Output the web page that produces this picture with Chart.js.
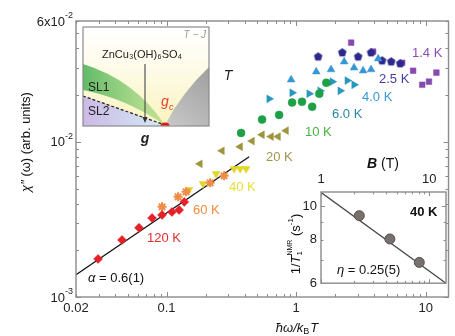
<!DOCTYPE html>
<html>
<head>
<meta charset="utf-8">
<script src="https://cdn.jsdelivr.net/npm/chart.js@4.4.1/dist/chart.umd.min.js"></script>
<style>
html, body { margin: 0; padding: 0; background: #fff; }
#wrap { position: relative; width: 455px; height: 336px; }
#main { position: absolute; left: 0; top: 0; }
#inset { position: absolute; left: 280px; top: 150px; }
</style>
</head>
<body>
<div id="wrap">
  <canvas id="main" width="455" height="336"></canvas>
  <canvas id="inset" width="172" height="145"></canvas>
</div>
<script>
// temperature series: x = hbar*omega/kB*T, y = chi''(omega)
var temps = ['120 K', '60 K', '40 K', '20 K', '10 K', '6.0 K', '4.0 K', '2.5 K', '1.4 K'];

var x120 = [0.0296, 0.0453, 0.0613, 0.0773, 0.0923, 0.110, 0.125, 0.137];
var y120 = [1.76e-3, 2.33e-3, 2.79e-3, 3.23e-3, 3.38e-3, 3.53e-3, 3.64e-3, 4.10e-3];
var x60 = [0.0923, 0.1227, 0.1415, 0.217, 0.278];
var y60 = [3.81e-3, 4.42e-3, 4.76e-3, 5.44e-3, 6.04e-3];
var x40 = [0.149, 0.191, 0.241, 0.332, 0.370, 0.411];
var y40 = [4.90e-3, 5.36e-3, 6.22e-3, 6.70e-3, 6.70e-3, 6.70e-3];
var x20 = [0.181, 0.268, 0.370, 0.457, 0.546, 0.641, 0.726, 0.837];
var y20 = [7.21e-3, 8.75e-3, 9.29e-3, 1.01e-2, 1.11e-2, 1.08e-2, 1.08e-2, 1.18e-2];
var x10 = [0.376, 0.546, 0.739, 0.931, 1.11, 1.33, 1.51, 1.71];
var y10 = [1.14e-2, 1.39e-2, 1.49e-2, 1.79e-2, 1.81e-2, 1.68e-2, 2.04e-2, 2.40e-2];
var x6 = [0.619, 0.931, 1.26, 1.53, 1.90, 2.19, 2.48, 2.80];
var y6 = [1.89e-2, 2.07e-2, 2.04e-2, 2.13e-2, 2.44e-2, 2.13e-2, 2.48e-2, 2.33e-2];
var x4 = [0.915, 1.43, 1.86, 2.35, 2.80, 3.29, 3.79, 4.30];
var y4 = [2.51e-2, 2.83e-2, 2.92e-2, 3.28e-2, 3.00e-2, 2.87e-2, 2.92e-2, 3.43e-2];
var x25 = [1.48, 2.27, 3.01, 3.79, 4.61, 5.42, 6.36];
var y25 = [3.53e-2, 3.75e-2, 3.53e-2, 3.75e-2, 3.33e-2, 3.28e-2, 3.19e-2];
var x14 = [2.66, 3.93, 6.59, 8.0, 9.40, 10.6, 12.1];
var y14 = [4.35e-2, 3.81e-2, 3.23e-2, 2.87e-2, 2.33e-2, 2.44e-2, 2.79e-2];

// power-law fit, alpha = 0.6(1)
var fitX = [0.02, 0.434];
var fitY = [1.39e-3, 8.0e-3];

// main axes ticks
var xTicks = [0.02, 0.1, 1, 10];
var xTickLabels = ['0.02', '0.1', '1', '10'];
var yTicks = [1e-3, 1e-2, 6e-2];
var yTickLabels = [['10', '-3'], ['10', '-2'], ['6x10', '-2']];

// inset: 1/T1 (NMR) vs B at 40 K
var bField = [2.26, 4.33, 8.1];
var rateT1 = [9.4, 8.05, 6.89];
var rateFitB = [1, 14.3];
var rateFitY = [10.97, 6.0];
var bTicks = [1, 10];
var rateTicks = [6, 8, 10];

var FONT = '"Liberation Sans", Arial, sans-serif';

function pts(xs, ys) {
  return xs.map(function (v, i) { return { x: v, y: ys[i] }; });
}

function pentagon(color, r) {
  var c = document.createElement('canvas');
  c.width = c.height = 2 * r + 2;
  var g = c.getContext('2d');
  g.fillStyle = color;
  g.beginPath();
  for (var i = 0; i < 5; i++) {
    var a = -Math.PI / 2 + i * 2 * Math.PI / 5;
    var px = r + 1 + r * Math.cos(a), py = r + 1 + r * Math.sin(a);
    if (i) g.lineTo(px, py); else g.moveTo(px, py);
  }
  g.closePath();
  g.fill();
  return c;
}

var markColors = ['rgb(228,32,40)', 'rgb(240,140,70)', 'rgb(226,214,40)', 'rgb(158,148,60)',
  'rgb(30,160,70)', 'rgb(40,150,190)', 'rgb(55,150,215)', 'rgb(45,40,140)', 'rgb(135,75,175)'];
var labelColors = ['rgb(232,45,45)', 'rgb(245,140,60)', 'rgb(228,224,60)', 'rgb(160,150,75)',
  'rgb(70,180,60)', 'rgb(40,135,165)', 'rgb(60,150,215)', 'rgb(70,60,160)', 'rgb(140,80,180)'];
var labelPos = [[147, 238], [193, 210], [229, 187], [266, 157], [305, 132], [332, 114], [362, 97], [379, 79], [412, 53]];

function series(xs, ys, i, style, rot, r) {
  return {
    label: temps[i],
    data: pts(xs, ys),
    pointStyle: style,
    pointRotation: rot || 0,
    pointRadius: r || 4,
    backgroundColor: markColors[i],
    borderColor: markColors[i],
    borderWidth: style === 'star' ? 2 : 0.5
  };
}

function minorTicks(lo, hi) {
  var out = [];
  for (var d = Math.floor(Math.log10(lo)); d <= Math.ceil(Math.log10(hi)); d++) {
    for (var k = 1; k < 10; k++) {
      var v = k * Math.pow(10, d);
      if (v >= lo * 0.999 && v <= hi * 1.001) out.push({ v: v, major: k === 1 });
    }
  }
  return out;
}

function drawTicks(c, chart, len) {
  var a = chart.chartArea, xs = chart.scales.x, ys = chart.scales.y;
  c.strokeStyle = '#8a8a8a';
  c.lineWidth = 1;
  minorTicks(xs.min, xs.max).forEach(function (t) {
    var p = Math.round(xs.getPixelForValue(t.v)) + 0.5;
    var l = t.major ? len : len * 0.6;
    c.beginPath();
    c.moveTo(p, a.bottom); c.lineTo(p, a.bottom - l);
    c.moveTo(p, a.top); c.lineTo(p, a.top + l);
    c.stroke();
  });
  minorTicks(ys.min, ys.max).forEach(function (t) {
    var p = Math.round(ys.getPixelForValue(t.v)) + 0.5;
    var l = t.major ? len : len * 0.6;
    c.beginPath();
    c.moveTo(a.left, p); c.lineTo(a.left + l, p);
    c.moveTo(a.right, p); c.lineTo(a.right - l, p);
    c.stroke();
  });
}

function drawPhase(c) {
  var x0 = 83, y0 = 27, x1 = 209, y1 = 126, gx = 165, gy = 125;
  c.save();
  c.fillStyle = '#fff';
  c.fillRect(x0, y0, x1 - x0, y1 - y0);
  c.beginPath(); c.rect(x0, y0, x1 - x0, y1 - y0); c.clip();
  var g = c.createLinearGradient(0, y0, 0, y1);
  g.addColorStop(0, '#ffffff'); g.addColorStop(0.45, '#fdfbe6'); g.addColorStop(1, '#faf3bd');
  c.fillStyle = g;
  c.fillRect(x0, y0, x1 - x0, y1 - y0);
  // gray region
  g = c.createLinearGradient(gx, gy, x1, 70);
  g.addColorStop(0, 'rgb(200,200,200)'); g.addColorStop(1, 'rgb(160,160,160)');
  c.fillStyle = g;
  c.beginPath(); c.moveTo(gx, gy); c.quadraticCurveTo(182, 92, x1 + 1, 66); c.lineTo(x1 + 1, y1 + 1); c.closePath(); c.fill();
  // green band
  g = c.createLinearGradient(x0, 0, gx, 0);
  g.addColorStop(0, 'rgba(70,175,80,0.85)'); g.addColorStop(1, 'rgba(150,210,110,0.55)');
  c.fillStyle = g;
  c.beginPath(); c.moveTo(x0, 64); c.quadraticCurveTo(135, 80, gx, gy); c.quadraticCurveTo(125, 98, x0, 90); c.closePath(); c.fill();
  // SL2 region
  g = c.createLinearGradient(x0, 0, gx, 0);
  g.addColorStop(0, 'rgb(205,185,230)'); g.addColorStop(1, 'rgb(210,235,245)');
  c.fillStyle = g;
  c.beginPath(); c.moveTo(x0, 96); c.lineTo(gx, gy); c.lineTo(gx, y1 + 1); c.lineTo(x0, y1 + 1); c.closePath(); c.fill();
  // dashed boundary
  c.setLineDash([3, 2]);
  c.strokeStyle = '#222'; c.lineWidth = 1.2;
  c.beginPath(); c.moveTo(x0, 96); c.lineTo(gx, gy); c.stroke();
  c.setLineDash([]);
  // vertical arrow
  c.strokeStyle = '#555'; c.lineWidth = 1.2;
  c.beginPath(); c.moveTo(145, 64); c.lineTo(145, 120); c.stroke();
  c.fillStyle = '#333';
  c.beginPath(); c.moveTo(142.5, 117); c.lineTo(147.5, 117); c.lineTo(145, 123); c.closePath(); c.fill();
  // red dot at g_c
  c.fillStyle = 'rgb(230,20,20)';
  c.beginPath(); c.ellipse(gx, gy + 1, 4.5, 3.5, 0, 0, 2 * Math.PI); c.fill();
  c.restore();
  c.strokeStyle = '#8a8a8a'; c.lineWidth = 1.2;
  c.strokeRect(x0, y0, x1 - x0, y1 - y0);
  // texts
  c.textBaseline = 'middle';
  c.fillStyle = '#999';
  c.font = 'italic 10px ' + FONT; c.textAlign = 'right';
  c.fillText('T \u2212 J', 206, 35);
  c.fillStyle = '#222';
  c.font = '11px ' + FONT; c.textAlign = 'center';
  c.fillText('ZnCu\u2083(OH)\u2086SO\u2084', 142, 55);
  c.font = '12px ' + FONT; c.textAlign = 'left';
  c.fillText('SL1', 88, 88);
  c.fillText('SL2', 88, 112);
  c.fillStyle = 'rgb(235,60,40)';
  c.font = 'italic 14px ' + FONT;
  c.fillText('g', 161, 102);
  c.font = 'italic 9px ' + FONT;
  c.fillText('c', 169, 107);
  c.fillStyle = '#222';
  c.font = 'italic bold 14px ' + FONT; c.textAlign = 'center';
  c.fillText('g', 145, 139);
  c.font = 'italic 14px ' + FONT;
  c.fillText('T', 228, 76);
}

var mainDeco = {
  id: 'mainDeco',
  afterDatasetsDraw: function (chart) {
    var c = chart.ctx, a = chart.chartArea, ys = chart.scales.y;
    c.save();
    drawTicks(c, chart, 5);
    c.strokeStyle = '#8a8a8a'; c.lineWidth = 1.4;
    c.strokeRect(a.left, a.top, a.right - a.left, a.bottom - a.top);
    // y tick labels with superscripts
    c.fillStyle = '#222';
    c.textBaseline = 'middle';
    yTicks.forEach(function (v, i) {
      var p = ys.getPixelForValue(v);
      c.font = '9px ' + FONT;
      var sw = c.measureText(yTickLabels[i][1]).width;
      c.textAlign = 'left';
      c.fillText(yTickLabels[i][1], 73 - sw, p - 5);
      c.font = '13px ' + FONT;
      c.textAlign = 'right';
      c.fillText(yTickLabels[i][0], 73 - sw, p + 1);
    });
    // temperature labels
    c.font = '13px ' + FONT;
    c.textAlign = 'left';
    temps.forEach(function (t, i) {
      c.fillStyle = labelColors[i];
      c.fillText(t, labelPos[i][0], labelPos[i][1]);
    });
    // alpha
    c.fillStyle = '#111';
    c.font = 'italic 13px ' + FONT;
    c.fillText('\u03b1', 88, 278);
    var w = c.measureText('\u03b1').width;
    c.font = '13px ' + FONT;
    c.fillText(' = 0.6(1)', 88 + w, 278);
    // x title: hbar omega / k_B T
    c.font = 'italic 13px ' + FONT;
    var p1 = '\u0127\u03c9/k', w1 = c.measureText(p1).width;
    c.font = '9px ' + FONT;
    var wb = c.measureText('B').width;
    c.font = 'italic 13px ' + FONT;
    var wt = c.measureText('T').width;
    var sx = 297 - (w1 + wb + wt + 1) / 2;
    c.fillText(p1, sx, 328);
    c.font = '9px ' + FONT;
    c.fillText('B', sx + w1, 332);
    c.font = 'italic 13px ' + FONT;
    c.fillText('T', sx + w1 + wb + 1, 328);
    // y title
    c.translate(26, 142);
    c.rotate(-Math.PI / 2);
    c.font = 'italic 13px ' + FONT;
    var s1 = '\u03c7\u2033', ws1 = c.measureText(s1).width;
    c.font = '13px ' + FONT;
    var s2 = ' (\u03c9) (arb. units)', ws2 = c.measureText(s2).width;
    var st = -(ws1 + ws2) / 2;
    c.font = 'italic 13px ' + FONT;
    c.fillText(s1, st, 0);
    c.font = '13px ' + FONT;
    c.fillText(s2, st + ws1, 0);
    c.restore();
    c.save();
    drawPhase(c);
    c.restore();
  }
};

new Chart(document.getElementById('main'), {
  type: 'scatter',
  data: {
    datasets: [
      series(x120, y120, 0, 'rectRot', 0, 4.5),
      series(x60, y60, 1, 'star', 0, 4.5),
      series(x40, y40, 2, 'triangle', 180, 4.5),
      series(x20, y20, 3, 'triangle', 270, 4.5),
      series(x10, y10, 4, 'circle', 0, 4),
      series(x6, y6, 5, 'triangle', 90, 4.5),
      series(x4, y4, 6, 'triangle', 0, 4.5),
      series(x25, y25, 7, pentagon(markColors[7], 4.5), 0, 4.5),
      series(x14, y14, 8, 'rect', 0, 4),
      {
        type: 'line',
        label: 'fit',
        data: pts(fitX, fitY),
        borderColor: '#111',
        borderWidth: 1.3,
        pointRadius: 0,
        fill: false
      }
    ]
  },
  options: {
    responsive: false,
    animation: false,
    layout: { padding: { left: 0, right: 5, top: 21, bottom: 0 } },
    plugins: { legend: { display: false }, tooltip: { enabled: false } },
    scales: {
      x: {
        type: 'logarithmic',
        min: 0.02,
        max: 15,
        afterBuildTicks: function (s) { s.ticks = xTicks.map(function (v) { return { value: v }; }); },
        afterFit: function (s) { s.height = 39; },
        grid: { display: false, drawTicks: false },
        border: { display: false },
        ticks: {
          color: '#222',
          font: { size: 13, family: FONT },
          padding: 4,
          maxRotation: 0,
          autoSkip: false,
          callback: function (v, i) { return xTickLabels[i]; }
        }
      },
      y: {
        type: 'logarithmic',
        min: 1e-3,
        max: 6e-2,
        afterBuildTicks: function (s) { s.ticks = yTicks.map(function (v) { return { value: v }; }); },
        afterFit: function (s) { s.width = 76; },
        grid: { display: false, drawTicks: false },
        border: { display: false },
        ticks: { display: false }
      }
    }
  },
  plugins: [mainDeco]
});

var insetDeco = {
  id: 'insetDeco',
  beforeDatasetsDraw: function (chart) {
    var c = chart.ctx, a = chart.chartArea;
    c.save();
    c.fillStyle = '#fff';
    c.fillRect(a.left, a.top, a.right - a.left, a.bottom - a.top);
    c.restore();
  },
  afterDatasetsDraw: function (chart) {
    var c = chart.ctx, a = chart.chartArea;
    c.save();
    drawTicks(c, chart, 4);
    c.strokeStyle = '#8a8a8a'; c.lineWidth = 1.4;
    c.strokeRect(a.left, a.top, a.right - a.left, a.bottom - a.top);
    c.fillStyle = '#111';
    c.textBaseline = 'middle';
    // B (T)
    c.font = 'italic bold 14px ' + FONT;
    c.textAlign = 'left';
    var wB = c.measureText('B').width;
    c.fillText('B', 87, 14);
    c.font = '14px ' + FONT;
    c.fillText(' (T)', 87 + wB, 14);
    // 40 K
    c.font = 'bold 13px ' + FONT;
    c.fillText('40 K', 130, 62);
    // eta
    c.font = 'italic 13px ' + FONT;
    c.fillText('\u03b7', 57, 120);
    var we = c.measureText('\u03b7').width;
    c.font = '13px ' + FONT;
    c.fillText(' = 0.25(5)', 57 + we, 120);
    // y title 1/T1^NMR (s^-1)
    c.translate(16, 94);
    c.rotate(-Math.PI / 2);
    var parts = [
      ['1/', '13px', 0, true], ['T', 'italic 13px', 0, true], ['1', '8px', 4, false], ['NMR', '7px', -6, true],
      [' (s', '13px', 0, true], ['-1', '8px', -5, true], [')', '13px', 0, true]
    ];
    var widths = parts.map(function (p) { c.font = p[1] + ' ' + FONT; return c.measureText(p[0]).width; });
    var total = 0;
    parts.forEach(function (p, i) { if (p[3]) total += widths[i]; });
    var x = -total / 2;
    parts.forEach(function (p, i) {
      c.font = p[1] + ' ' + FONT;
      c.fillText(p[0], x, p[2]);
      if (p[3]) x += widths[i];
    });
    c.restore();
  }
};

new Chart(document.getElementById('inset'), {
  type: 'scatter',
  data: {
    datasets: [
      {
        label: '40 K',
        data: pts(bField, rateT1),
        pointRadius: 5,
        backgroundColor: 'rgb(120,112,108)',
        borderColor: 'rgb(85,80,78)',
        borderWidth: 1
      },
      {
        type: 'line',
        label: 'fit',
        data: pts(rateFitB, rateFitY),
        borderColor: 'rgb(70,70,70)',
        borderWidth: 1.3,
        pointRadius: 0,
        fill: false
      }
    ]
  },
  options: {
    responsive: false,
    animation: false,
    layout: { padding: { left: 0, right: 5, top: 0, bottom: 7 } },
    plugins: { legend: { display: false }, tooltip: { enabled: false } },
    scales: {
      x: {
        type: 'logarithmic',
        position: 'top',
        min: 1,
        max: 14.3,
        afterBuildTicks: function (s) { s.ticks = bTicks.map(function (v) { return { value: v }; }); },
        afterFit: function (s) { s.height = 42; },
        grid: { display: false, drawTicks: false },
        border: { display: false },
        ticks: {
          color: '#222',
          font: { size: 13, family: FONT },
          padding: 5,
          maxRotation: 0,
          autoSkip: false,
          callback: function (v) { return String(v); }
        }
      },
      y: {
        type: 'logarithmic',
        min: 6,
        max: 11,
        afterBuildTicks: function (s) { s.ticks = rateTicks.map(function (v) { return { value: v }; }); },
        afterFit: function (s) { s.width = 41; },
        grid: { display: false, drawTicks: false },
        border: { display: false },
        ticks: {
          color: '#222',
          font: { size: 13, family: FONT },
          padding: 4,
          autoSkip: false,
          callback: function (v) { return String(v); }
        }
      }
    }
  },
  plugins: [insetDeco]
});
</script>
</body>
</html>
